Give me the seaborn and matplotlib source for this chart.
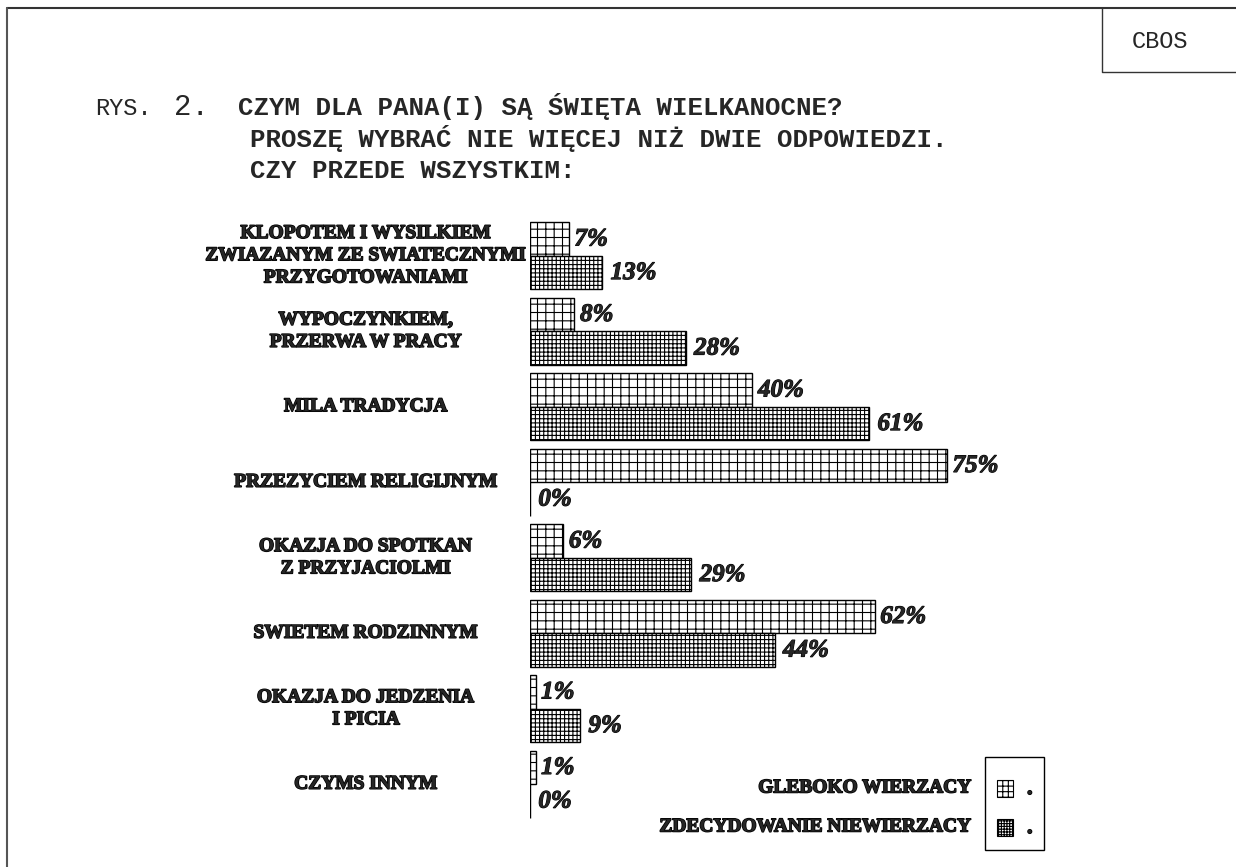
import numpy as np
import pandas as pd
import seaborn as sns
import matplotlib.pyplot as plt
import matplotlib.transforms as mtransforms
import matplotlib.patheffects as pe
from matplotlib.patches import Rectangle
from matplotlib.lines import Line2D

""" Data read off the CBOS chart """
categories = [
    "KLOPOTEM I WYSILKIEM\nZWIAZANYM ZE SWIATECZNYMI\nPRZYGOTOWANIAMI",
    "WYPOCZYNKIEM,\nPRZERWA W PRACY",
    "MILA TRADYCJA",
    "PRZEZYCIEM RELIGIJNYM",
    "OKAZJA DO SPOTKAN\nZ PRZYJACIOLMI",
    "SWIETEM RODZINNYM",
    "OKAZJA DO JEDZENIA\nI PICIA",
    "CZYMS INNYM",
]
groups = ["GLEBOKO WIERZACY", "ZDECYDOWANIE NIEWIERZACY"]
believers = [7, 8, 40, 75, 6, 62, 1, 1]
nonbelievers = [13, 28, 61, 0, 29, 44, 9, 0]
hatches = ["++", "++++"]

title_lines = [
    "CZYM DLA PANA(I) SĄ ŚWIĘTA WIELKANOCNE?",
    "PROSZĘ WYBRAĆ NIE WIĘCEJ NIŻ DWIE ODPOWIEDZI.",
    "CZY PRZEDE WSZYSTKIM:",
]

df = pd.DataFrame({
    "category": categories * 2,
    "group": [groups[0]] * len(categories) + [groups[1]] * len(categories),
    "value": believers + nonbelievers,
})

sns.set_style("white")
plt.rcParams["hatch.linewidth"] = 0.8
plt.rcParams["hatch.color"] = "black"

W, H = 1236, 867
fig = plt.figure(figsize=(W / 100, H / 100), dpi=100)
fig.patch.set_facecolor("white")


def fx(px):
    return px / W


def fy(py):
    return 1 - py / H


# axes placed so the zero line sits at x=530 px and the groups fill ~218-822 px
ax = fig.add_axes([fx(530), fy(822), fx(556), (822 - 218) / H])

sns.barplot(data=df, y="category", x="value", hue="group", order=categories,
            hue_order=groups, orient="h", width=0.89, dodge=True,
            palette=["white", "white"], saturation=1, edgecolor="black",
            linewidth=1, errorbar=None, legend=False, ax=ax)

for cont, hatch in zip(ax.containers, hatches):
    for bar in cont:
        bar.set_hatch(hatch)
        bar.set_facecolor("white")
        bar.set_edgecolor("black")

ax.set_xlim(0, 100)
ax.set_ylim(len(categories) - 0.5, -0.5)
ax.set_axis_off()

# value labels (heavy bold italic)
heavy_num = [pe.Stroke(linewidth=0.8, foreground="black"), pe.Normal()]
lab_font = dict(fontfamily="Liberation Serif", fontweight="bold", fontstyle="italic",
                fontsize=18, path_effects=heavy_num)
ax.bar_label(ax.containers[0], labels=[f"{v}%" for v in believers], padding=4, **lab_font)
ax.bar_label(ax.containers[1], labels=[f"{v}%" for v in nonbelievers], padding=6, **lab_font)

# category labels, centred left of the bars
trans = mtransforms.blended_transform_factory(fig.transFigure, ax.transData)
heavy = [pe.withStroke(linewidth=1.1, foreground="black")]
for i, cat in enumerate(categories):
    ax.text(fx(366), i, cat, transform=trans, ha="center", va="center",
            multialignment="center", fontfamily="Liberation Serif",
            fontweight="bold", fontsize=14, linespacing=1.4, path_effects=heavy,
            clip_on=False)

# title block
fig.text(fx(95), fy(115), "RYS.", fontfamily="Liberation Mono", fontsize=17, va="baseline")
fig.text(fx(174), fy(115), "2.", fontfamily="Liberation Mono", fontsize=21, va="baseline")
for txt, x, y in zip(title_lines, [238, 250, 250], [115, 147, 178]):
    fig.text(fx(x), fy(y), txt, fontfamily="Liberation Mono", fontweight="bold",
             fontsize=18.5, va="baseline")

# CBOS corner box and page frame
fig.text(fx(1160), fy(42), "CBOS", fontfamily="Liberation Mono", fontsize=17,
         ha="center", va="center")
fig.add_artist(Line2D([fx(1102), fx(1102), 1], [fy(8), fy(72), fy(72)],
                      transform=fig.transFigure, color="#333333", lw=1))
fig.add_artist(Line2D([fx(7), 1], [fy(8), fy(8)], transform=fig.transFigure,
                      color="#333333", lw=1.5))
fig.add_artist(Line2D([fx(7), fx(7)], [fy(8), 0], transform=fig.transFigure,
                      color="#555555", lw=1.5))

# legend box
fig.add_artist(Rectangle((fx(985), fy(850)), fx(59), (850 - 757) / H,
                         transform=fig.transFigure, fill=False, edgecolor="black", lw=1))
for grp, y, hatch in zip(groups, [788, 827], ["+++", "++++++"]):
    fig.text(fx(972), fy(y), grp, ha="right", va="center", fontfamily="Liberation Serif",
             fontweight="bold", fontsize=14, path_effects=heavy)
    fig.add_artist(Rectangle((fx(997), fy(y + 9)), fx(16), 17 / H, transform=fig.transFigure,
                             facecolor="white", edgecolor="black", hatch=hatch, lw=0.8))
    fig.text(fx(1027), fy(y + 6), ".", fontfamily="Liberation Serif", fontweight="bold",
             fontsize=16, va="baseline", path_effects=heavy)

fig.savefig("out.png", dpi=100, facecolor="white")
